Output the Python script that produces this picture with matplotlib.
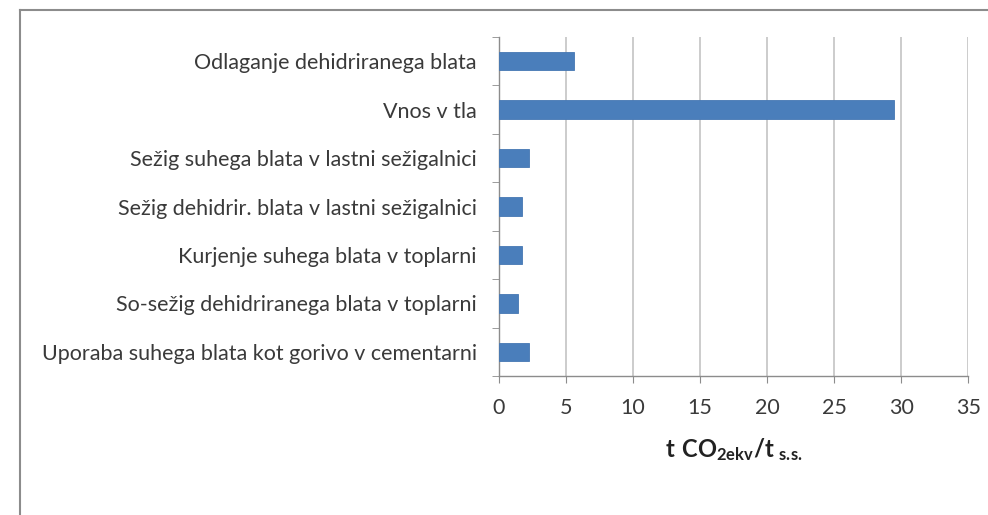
import matplotlib.pyplot as plt
import numpy as np

plt.rcParams['font.family'] = ['Lato', 'DejaVu Sans']
plt.rcParams['mathtext.fontset'] = 'custom'
plt.rcParams['mathtext.rm'] = 'Lato'
plt.rcParams['mathtext.bf'] = 'Lato:bold'

categories = [
    'Odlaganje dehidriranega blata',
    'Vnos v tla',
    'Sežig suhega blata v lastni sežigalnici',
    'Sežig dehidrir. blata v lastni sežigalnici',
    'Kurjenje suhega blata v toplarni',
    'So-sežig dehidriranega blata v toplarni',
    'Uporaba suhega blata kot gorivo v cementarni',
]
values = [5.6, 29.5, 2.25, 1.7, 1.75, 1.45, 2.25]
xticks = [0, 5, 10, 15, 20, 25, 30, 35]

fig = plt.figure(figsize=(9.88, 5.15), dpi=100)
ax = fig.add_axes([0.505, 0.27, 0.475, 0.658])

# chart frame
fig.add_artist(plt.Line2D([20 / 988, 20 / 988], [0, 1 - 10 / 515], color='#8c8c8c', lw=1.5,
                          transform=fig.transFigure))
fig.add_artist(plt.Line2D([20 / 988, 1], [1 - 10 / 515, 1 - 10 / 515], color='#8c8c8c', lw=1.5,
                          transform=fig.transFigure))

y = np.arange(len(categories))
ax.barh(y, values, height=0.38, color='#4a7ebb', edgecolor='#4577b3', linewidth=0.6, zorder=3)

ax.set_xlim(0, 35)
ax.set_ylim(len(categories) - 0.5, -0.5)
ax.set_xticks(xticks)
ax.set_yticks(y)
ax.set_yticklabels(categories)
ax.set_yticks(np.arange(-0.5, len(categories), 1), minor=True)
ax.tick_params(axis='y', which='major', length=0, pad=16, labelsize=15.5, labelcolor='#3a3a3a')
ax.tick_params(axis='y', which='minor', length=5, color='#8c8c8c')
ax.tick_params(axis='x', length=5, color='#8c8c8c', labelsize=15.5, labelcolor='#3a3a3a', pad=11)

ax.grid(axis='x', color='#c4c4c4', lw=1.2, zorder=0)
for side in ['top', 'right']:
    ax.spines[side].set_visible(False)
for side in ['left', 'bottom']:
    ax.spines[side].set_color('#8c8c8c')
    ax.spines[side].set_linewidth(1.0)

ax.set_xlabel(r'$\mathbf{t\ CO_{2ekv}/t_{\ s.\!s.}}$', fontsize=17, color='#222222', labelpad=13)

fig.savefig('out.png', dpi=100, facecolor='white')
